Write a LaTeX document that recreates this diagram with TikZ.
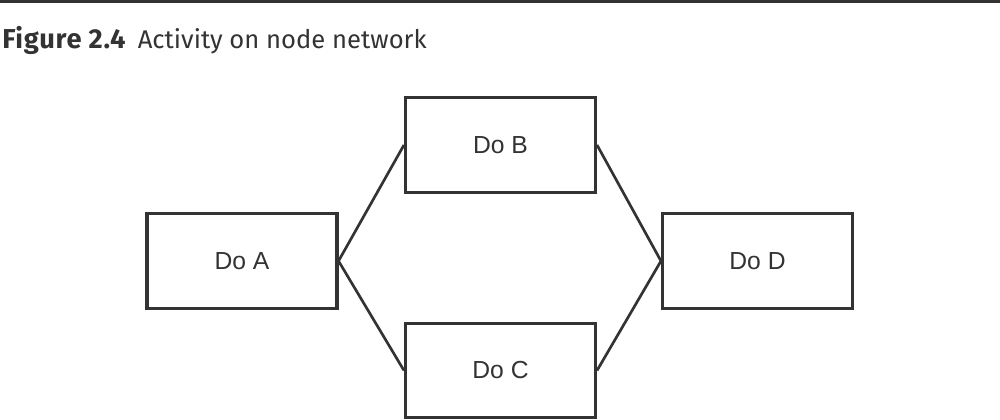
\documentclass[tikz,border=0pt]{standalone}
\usepackage{fontspec}
\setmainfont{Liberation Sans}
\newfontfamily\titlefont{Fira Sans}
\definecolor{ink}{HTML}{333333}
\begin{document}
\begin{tikzpicture}[x=0.75pt,y=-0.75pt,
  taskbox/.style={draw=ink,line width=2.3pt,minimum width=142.5pt,minimum height=71pt,inner sep=0pt,
    font=\fontsize{18.5}{21}\selectfont,text=ink},
  link/.style={draw=ink,line width=2pt}]
\useasboundingbox (0,0) rectangle (1000,420);
\fill[ink] (0,0) rectangle (1000,3);
\node[anchor=base west,inner sep=0pt,text=ink,font=\titlefont\fontsize{19.2}{22}\selectfont] (title) at (2,49)
  {{\addfontfeature{LetterSpace=2.5}\fontsize{20.5}{22}\selectfont\textbf{Figure 2.4}}\hspace{0.45em}{\fontseries{l}\selectfont Activity on node network}};
\node[taskbox] (A) at (242,261) {Do A};
\node[taskbox] (B) at (500.5,145) {Do B};
\node[taskbox] (C) at (500.5,370.5) {Do C};
\node[taskbox] (D) at (757.5,261) {Do D};
\draw[link] (A.east) -- (B.west);
\draw[link] (A.east) -- (C.west);
\draw[link] (B.east) -- (D.west);
\draw[link] (C.east) -- (D.west);
\end{tikzpicture}
\end{document}
